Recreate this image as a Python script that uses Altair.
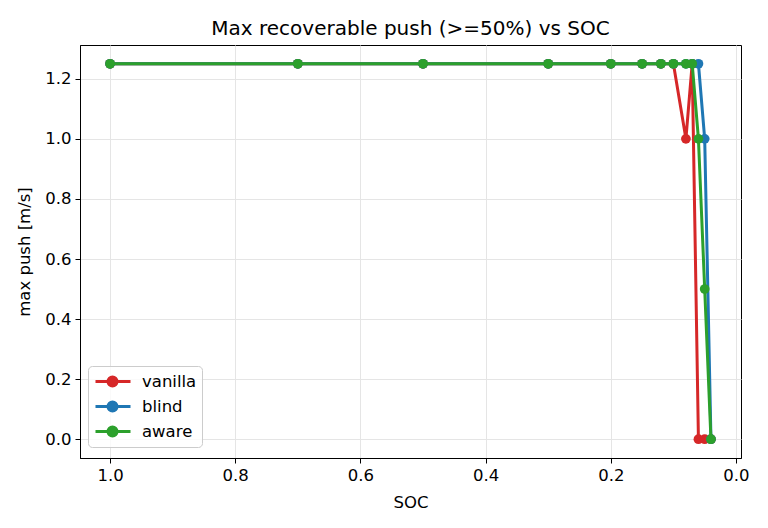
import altair as alt
import pandas as pd

soc = [1.0, 0.7, 0.5, 0.3, 0.2, 0.15, 0.12, 0.1, 0.08, 0.07, 0.06, 0.05, 0.04]
vanilla = [1.25, 1.25, 1.25, 1.25, 1.25, 1.25, 1.25, 1.25, 1.0, 1.25, 0.0, 0.0, 0.0]
blind = [1.25, 1.25, 1.25, 1.25, 1.25, 1.25, 1.25, 1.25, 1.25, 1.25, 1.25, 1.0, 0.0]
aware = [1.25, 1.25, 1.25, 1.25, 1.25, 1.25, 1.25, 1.25, 1.25, 1.25, 1.0, 0.5, 0.0]
series_names = ["vanilla", "blind", "aware"]
series_colors = ["#d62728", "#1f77b4", "#2ca02c"]

rows = []
for name, vals in zip(series_names, [vanilla, blind, aware]):
    for i, (s, v) in enumerate(zip(soc, vals)):
        rows.append({"SOC": s, "push": v, "series": name, "idx": i})
df = pd.DataFrame(rows)

font = "DejaVu Sans"
symbol_path = ("M-0.89,0L3,0"
               "M0.5,0A0.5,0.5,0,1,1,1.5,0A0.5,0.5,0,1,1,0.5,0Z")

color = alt.Color(
    "series:N",
    scale=alt.Scale(domain=series_names, range=series_colors),
    legend=alt.Legend(
        title=None, orient="none", legendX=8, legendY=321,
        symbolType=symbol_path, symbolSize=324, symbolStrokeWidth=3,
        labelFontSize=16.5, labelFont=font, labelColor="black",
        labelOffset=28, rowPadding=4, padding=5,
        strokeColor="#cccccc", fillColor="rgba(255,255,255,0.8)",
        cornerRadius=4, symbolOpacity=1,
    ),
)

x = alt.X("SOC:Q", scale=alt.Scale(domain=[-0.008, 1.048], reverse=True, nice=False, zero=False),
          axis=alt.Axis(title="SOC", values=[0.0, 0.2, 0.4, 0.6, 0.8, 1.0], format=".1f"))
y = alt.Y("push:Q", scale=alt.Scale(domain=[-0.0625, 1.3125], nice=False, zero=False),
          axis=alt.Axis(title="max push [m/s]", values=[0.0, 0.2, 0.4, 0.6, 0.8, 1.0, 1.2], format=".1f"))

layers = []
for name in series_names:
    layers.append(
        alt.Chart(df).transform_filter(alt.datum.series == name)
        .mark_line(strokeWidth=3, point=alt.OverlayMarkDef(size=95, filled=True, opacity=1))
        .encode(x=x, y=y, color=color, order="idx:Q")
    )

chart = alt.layer(*layers).properties(
    width=661, height=413,
    title=alt.TitleParams("Max recoverable push (>=50%) vs SOC", fontSize=20, font=font,
                          fontWeight="normal", color="black", offset=6),
    autosize=alt.AutoSizeParams(type="none"),
    padding={"left": 80, "top": 45, "right": 27, "bottom": 70},
).configure_view(stroke="black", strokeWidth=1).configure_axis(
    labelFont=font, labelFontSize=16.5, labelColor="black",
    titleFont=font, titleFontSize=16.5, titleFontWeight="normal", titleColor="black",
    gridColor="#e5e5e5", gridWidth=1, tickColor="black", tickSize=5,
    domainColor="black", labelPadding=4,
).configure_axisX(titlePadding=11).configure_axisY(titlePadding=12)

chart.save("out.html", embed_options={"renderer": "svg", "actions": False})
